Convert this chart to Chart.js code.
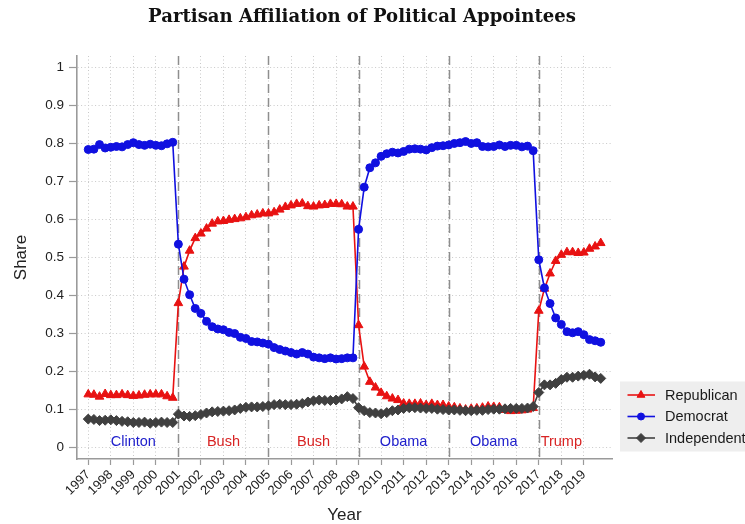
<!DOCTYPE html>
<html>
<head>
<meta charset="utf-8">
<script src="https://cdn.jsdelivr.net/npm/chart.js@4.4.1/dist/chart.umd.min.js"></script>
<style>
html,body{margin:0;padding:0;background:#ffffff;}
#wrap{width:745px;height:524px;position:relative;overflow:hidden;}
</style>
</head>
<body>
<div id="wrap"><canvas id="c"></canvas></div>
<script>
// ---------- DATA (quarterly, 1997Q1 .. 2019Q4) ----------
const startYear = 1997;
const quartersPerYear = 4;

const seriesNames = ['Republican', 'Democrat', 'Independent'];

const republican = [
  0.140, 0.139, 0.134, 0.141,  0.138, 0.138, 0.140, 0.138,
  0.136, 0.137, 0.139, 0.140,  0.140, 0.140, 0.135, 0.131,
  0.380, 0.476, 0.518, 0.551,  0.563, 0.576, 0.589, 0.595,
  0.596, 0.599, 0.601, 0.603,  0.606, 0.611, 0.613, 0.616,
  0.616, 0.619, 0.626, 0.633,  0.637, 0.641, 0.642, 0.635,
  0.634, 0.637, 0.638, 0.641,  0.641, 0.640, 0.634, 0.634,
  0.322, 0.213, 0.173, 0.158,  0.144, 0.135, 0.129, 0.125,
  0.116, 0.115, 0.115, 0.116,  0.112, 0.115, 0.112, 0.112,
  0.108, 0.106, 0.103, 0.100,  0.102, 0.103, 0.105, 0.108,
  0.107, 0.106, 0.099, 0.096,  0.097, 0.098, 0.100, 0.104,
  0.360, 0.418, 0.458, 0.491,  0.507, 0.514, 0.514, 0.512,
  0.513, 0.523, 0.529, 0.538
];

const democrat = [
  0.784, 0.785, 0.797, 0.788,  0.790, 0.792, 0.791, 0.797,
  0.802, 0.797, 0.795, 0.798,  0.795, 0.794, 0.799, 0.803,
  0.535, 0.443, 0.402, 0.366,  0.353, 0.332, 0.318, 0.312,
  0.310, 0.303, 0.300, 0.290,  0.287, 0.279, 0.278, 0.275,
  0.272, 0.263, 0.258, 0.254,  0.250, 0.246, 0.250, 0.246,
  0.238, 0.236, 0.234, 0.236,  0.233, 0.234, 0.236, 0.236,
  0.574, 0.685, 0.736, 0.749,  0.766, 0.773, 0.777, 0.775,
  0.779, 0.785, 0.786, 0.785,  0.783, 0.789, 0.793, 0.794,
  0.796, 0.800, 0.802, 0.805,  0.800, 0.802, 0.792, 0.791,
  0.792, 0.796, 0.792, 0.795,  0.795, 0.791, 0.793, 0.781,
  0.494, 0.420, 0.379, 0.341,  0.324, 0.305, 0.302, 0.305,
  0.297, 0.284, 0.281, 0.277
];

const independent = [
  0.075, 0.074, 0.071, 0.072,  0.073, 0.071, 0.069, 0.068,
  0.066, 0.066, 0.067, 0.064,  0.066, 0.067, 0.066, 0.066,
  0.088, 0.083, 0.082, 0.084,  0.087, 0.091, 0.094, 0.095,
  0.096, 0.097, 0.099, 0.103,  0.106, 0.107, 0.107, 0.108,
  0.110, 0.113, 0.114, 0.113,  0.113, 0.114, 0.116, 0.120,
  0.123, 0.125, 0.124, 0.124,  0.125, 0.128, 0.134, 0.129,
  0.105, 0.097, 0.092, 0.091,  0.089, 0.092, 0.097, 0.099,
  0.103, 0.105, 0.105, 0.104,  0.103, 0.103, 0.101, 0.100,
  0.099, 0.099, 0.098, 0.097,  0.097, 0.098, 0.098, 0.100,
  0.101, 0.101, 0.102, 0.103,  0.103, 0.103, 0.104, 0.108,
  0.145, 0.165, 0.165, 0.169,  0.179, 0.185, 0.185, 0.188,
  0.190, 0.193, 0.186, 0.182
];

const yearTicks = [1997, 1998, 1999, 2000, 2001, 2002, 2003, 2004, 2005, 2006, 2007, 2008,
                   2009, 2010, 2011, 2012, 2013, 2014, 2015, 2016, 2017, 2018, 2019];
const shareTicks = [0, 0.1, 0.2, 0.3, 0.4, 0.5, 0.6, 0.7, 0.8, 0.9, 1];

const termStarts = [2001, 2005, 2009, 2013, 2017];
const termNames = ['Clinton', 'Bush', 'Bush', 'Obama', 'Obama', 'Trump'];
const termCenters = [1999, 2003, 2007, 2011, 2015, 2018];
const termParty = ['D', 'R', 'R', 'D', 'D', 'R'];
const termLabelValue = 0.003;

const chartTitle = 'Partisan Affiliation of Political Appointees';

// ---------- STYLE ----------
const FONT = "'Liberation Sans', Arial, Helvetica, sans-serif";
const RED = '#e81212';
const BLUE = '#1010e0';
const GREY = '#404040';
const partyText = { D: '#2020cc', R: '#d82424' };

const periods = republican.map((_, i) => startYear + i / quartersPerYear);
const toPoints = arr => arr.map((v, i) => ({ x: periods[i], y: v }));

const titlePlugin = {
  id: 'mainTitle',
  afterDraw(chart) {
    const ctx = chart.ctx;
    const targetWidth = 428;
    const family = "'DejaVu Serif', 'Liberation Serif', serif";
    ctx.save();
    ctx.fillStyle = '#111111';
    ctx.font = 'bold 16px ' + family;
    const w16 = ctx.measureText(chartTitle).width;
    const size = Math.min(19, 16 * targetWidth / w16);
    ctx.font = 'bold ' + size.toFixed(2) + 'px ' + family;
    ctx.textAlign = 'center';
    ctx.textBaseline = 'alphabetic';
    ctx.fillText(chartTitle, 362, 22);
    ctx.restore();
  }
};

const termPlugin = {
  id: 'terms',
  beforeDatasetsDraw(chart) {
    const { ctx, chartArea, scales } = chart;
    ctx.save();
    ctx.strokeStyle = '#8e8e8e';
    ctx.lineWidth = 1.5;
    ctx.setLineDash([9, 5]);
    termStarts.forEach(v => {
      const px = Math.round(scales.x.getPixelForValue(v)) + 0.5;
      ctx.beginPath();
      ctx.moveTo(px, chartArea.top);
      ctx.lineTo(px, chartArea.bottom);
      ctx.stroke();
    });
    ctx.setLineDash([]);
    ctx.font = '14.5px ' + FONT;
    ctx.textAlign = 'center';
    ctx.textBaseline = 'alphabetic';
    const py = scales.y.getPixelForValue(termLabelValue);
    termNames.forEach((name, i) => {
      ctx.fillStyle = partyText[termParty[i]];
      ctx.fillText(name, scales.x.getPixelForValue(termCenters[i]), py);
    });
    ctx.restore();
  }
};

const legendPlugin = {
  id: 'boxLegend',
  afterDraw(chart) {
    const ctx = chart.ctx;
    const box = { x: 620, y: 381.5, w: 150, h: 70 };
    const rows = [395, 416.5, 438];
    ctx.save();
    ctx.fillStyle = '#eeeeee';
    ctx.fillRect(box.x, box.y, box.w, box.h);
    chart.data.datasets.forEach((ds, i) => {
      const cy = rows[i];
      ctx.strokeStyle = ds.borderColor;
      ctx.lineWidth = 1.6;
      ctx.beginPath();
      ctx.moveTo(627.5, cy);
      ctx.lineTo(655, cy);
      ctx.stroke();
      ctx.fillStyle = ds.borderColor;
      ctx.strokeStyle = ds.borderColor;
      ctx.lineWidth = 1;
      if (Chart.helpers && Chart.helpers.drawPoint) {
        Chart.helpers.drawPoint(ctx, { pointStyle: ds.pointStyle, radius: ds.pointRadius - 0.5, rotation: 0, borderWidth: 1 }, 641, cy);
      }
      ctx.fillStyle = '#1a1a1a';
      ctx.font = '14.5px ' + FONT;
      ctx.textAlign = 'left';
      ctx.textBaseline = 'middle';
      ctx.fillText(ds.label, 665, cy + 0.5);
    });
    ctx.restore();
  }
};

Chart.defaults.font.family = FONT;

new Chart(document.getElementById('c'), {
  type: 'line',
  data: {
    datasets: [
      { label: seriesNames[0], data: toPoints(republican), borderColor: RED, backgroundColor: RED,
        pointBackgroundColor: RED, pointBorderColor: RED, pointStyle: 'triangle', pointRadius: 5,
        borderWidth: 1.6, pointBorderWidth: 1, order: 3 },
      { label: seriesNames[1], data: toPoints(democrat), borderColor: BLUE, backgroundColor: BLUE,
        pointBackgroundColor: BLUE, pointBorderColor: BLUE, pointStyle: 'circle', pointRadius: 4,
        borderWidth: 1.6, pointBorderWidth: 1, order: 2 },
      { label: seriesNames[2], data: toPoints(independent), borderColor: GREY, backgroundColor: GREY,
        pointBackgroundColor: GREY, pointBorderColor: GREY, pointStyle: 'rectRot', pointRadius: 5,
        borderWidth: 1.6, pointBorderWidth: 1, order: 1 }
    ]
  },
  options: {
    responsive: true,
    maintainAspectRatio: false,
    animation: false,
    layout: { padding: { top: 56, right: 133, bottom: 0, left: 0 } },
    plugins: { legend: { display: false }, title: { display: false }, tooltip: { enabled: false } },
    elements: { line: { tension: 0, fill: false } },
    scales: {
      x: {
        type: 'linear', min: 1996.5, max: 2020.25,
        afterBuildTicks: s => { s.ticks = yearTicks.map(v => ({ value: v })); },
        afterFit: s => { s.height = 65; },
        grid: { color: '#c9c9c9', lineWidth: 1, tickLength: 6, tickColor: '#9a9a9a', tickWidth: 1.2 },
        border: { display: true, color: '#9a9a9a', width: 1.6, dash: [1, 2.5] },
        ticks: { autoSkip: false, maxRotation: 45, minRotation: 45, padding: 2, color: '#222222',
                 font: { size: 13 }, callback: v => String(v) },
        title: { display: true, text: 'Year', color: '#222222', font: { size: 17, lineHeight: 1 },
                 padding: { top: 0, bottom: 0 } }
      },
      y: {
        type: 'linear', min: -0.03, max: 1.03,
        afterBuildTicks: s => { s.ticks = shareTicks.map(v => ({ value: v })); },
        afterFit: s => { s.width = 77; },
        grid: { color: '#c9c9c9', lineWidth: 1, tickLength: 8, tickColor: '#9a9a9a', tickWidth: 1.2 },
        border: { display: true, color: '#9a9a9a', width: 1.6, dash: [1, 2.5] },
        ticks: { padding: 5, color: '#222222', font: { size: 13.5 },
                 callback: v => String(Number(v.toFixed(1))) },
        title: { display: true, text: 'Share', color: '#222222', font: { size: 17, lineHeight: 1 },
                 padding: { top: 13, bottom: 0 } }
      }
    }
  },
  plugins: [termPlugin, titlePlugin, legendPlugin]
});
</script>
</body>
</html>
